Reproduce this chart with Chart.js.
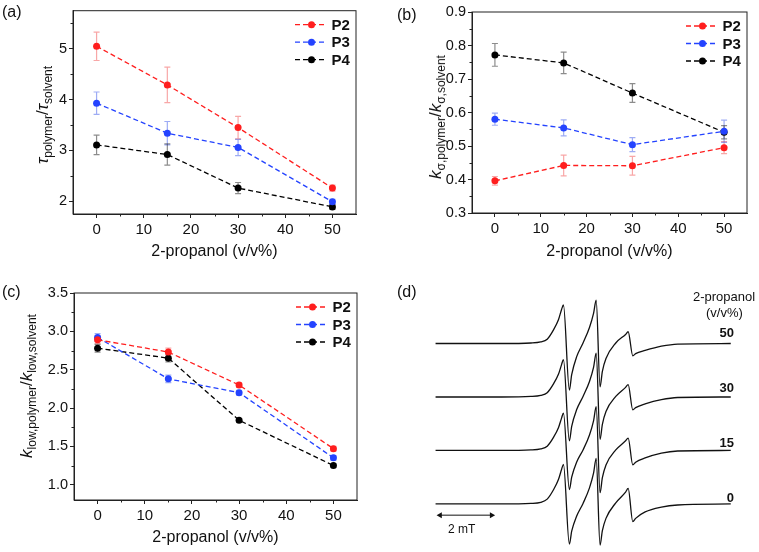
<!DOCTYPE html>
<html>
<head>
<meta charset="utf-8">
<script src="https://cdn.jsdelivr.net/npm/chart.js@4.4.1/dist/chart.umd.min.js"></script>
<style>
  body { margin: 0; background: #fff; }
  #fig { position: relative; width: 759px; height: 552px; font-family: "Liberation Sans", Arial, sans-serif; color: #111; overflow: hidden; }
  #fig canvas { position: absolute; }
  .txt { position: absolute; white-space: nowrap; line-height: 1; }
  .ytitle { position: absolute; white-space: nowrap; line-height: 1; font-size: 17px;
            transform: translate(-50%, -50%) rotate(-90deg); }
  .ytitle sub { font-size: 12px; vertical-align: -4px; }
  .ytitle i { font-style: italic; }
  .lbl { font-size: 16px; }
  .num { font-size: 13px; font-weight: bold; transform: translate(-100%, -50%); }
</style>
</head>
<body>
<div id="fig">
  <canvas id="pa" width="380" height="270" style="left:0;top:0"></canvas>
  <canvas id="pb" width="379" height="270" style="left:380px;top:0"></canvas>
  <canvas id="pc" width="380" height="282" style="left:0;top:270px"></canvas>
  <canvas id="pd" width="379" height="282" style="left:380px;top:270px"></canvas>

  <div class="txt lbl" style="left:2px;top:4px">(a)</div>
  <div class="txt lbl" style="left:397px;top:7px">(b)</div>
  <div class="txt lbl" style="left:2px;top:284px">(c)</div>
  <div class="txt lbl" style="left:397px;top:284px">(d)</div>

  <div class="ytitle" style="left:44px;top:115px"><i>τ</i><sub>polymer</sub>/<i>τ</i><sub>solvent</sub></div>
  <div class="ytitle" style="left:437px;top:117px"><i>k</i><sub>σ,polymer</sub>/<i>k</i><sub>σ,solvent</sub></div>
  <div class="ytitle" style="left:28px;top:386px"><i>k</i><sub>low,polymer</sub>/<i>k</i><sub>low,solvent</sub></div>

  <div class="txt" style="left:693px;top:290px;font-size:13px">2-propanol</div>
  <div class="txt" style="left:706px;top:306px;font-size:13px">(v/v%)</div>
  <div class="txt num" style="left:734px;top:332px">50</div>
  <div class="txt num" style="left:734px;top:387px">30</div>
  <div class="txt num" style="left:734px;top:442px">15</div>
  <div class="txt num" style="left:734px;top:497px">0</div>
  <div class="txt" style="left:448px;top:523px;font-size:12px">2 mT</div>
</div>
<script>
// x values shared by (a)-(c)
const propanol = [0, 15, 30, 50];
const seriesNames = ['P2', 'P3', 'P4'];

// (a) tau_polymer / tau_solvent
const tauP2 = [5.05, 4.29, 3.45, 2.26];
const tauP3 = [3.93, 3.34, 3.06, 1.99];
const tauP4 = [3.11, 2.92, 2.26, 1.89];
const tauErrP2 = [0.28, 0.35, 0.22, 0.06];
const tauErrP3 = [0.22, 0.23, 0.16, 0.05];
const tauErrP4 = [0.19, 0.21, 0.11, 0.05];

// (b) k_sigma ratio
const ksP2 = [0.396, 0.442, 0.441, 0.495];
const ksP3 = [0.580, 0.554, 0.504, 0.544];
const ksP4 = [0.772, 0.748, 0.658, 0.541];
const ksErrP2 = [0.013, 0.031, 0.028, 0.018];
const ksErrP3 = [0.018, 0.024, 0.021, 0.033];
const ksErrP4 = [0.034, 0.032, 0.028, 0.020];

// (c) k_low ratio
const klP2 = [2.89, 2.73, 2.30, 1.47];
const klP3 = [2.92, 2.38, 2.20, 1.35];
const klP4 = [2.78, 2.65, 1.84, 1.25];
const klErrP2 = [0.05, 0.05, 0.03, 0.03];
const klErrP3 = [0.05, 0.05, 0.03, 0.03];
const klErrP4 = [0.05, 0.05, 0.02, 0.02];

// tick values
const xTicks = [0, 10, 20, 30, 40, 50];
const xMinor = [5, 15, 25, 35, 45];
const tauTicks = [2, 3, 4, 5];
const tauMinor = [2.5, 3.5, 4.5, 5.5];
const ksTicks = [0.3, 0.4, 0.5, 0.6, 0.7, 0.8, 0.9];
const ksMinor = [0.35, 0.45, 0.55, 0.65, 0.75, 0.85];
const klTicks = [1.0, 1.5, 2.0, 2.5, 3.0, 3.5];
const klMinor = [1.25, 1.75, 2.25, 2.75, 3.25];

// (d) EPR spectra, field in mT from the left end, intensity relative to each baseline
const fieldMT = [0, 2.56, 3.70, 4.08, 4.33, 4.58, 4.77, 4.89, 4.96, 5.19, 5.28, 5.47, 5.72, 5.97,
                 6.13, 6.23, 6.38, 6.47, 6.61, 6.99, 7.37, 7.47, 7.65, 7.76, 8.13, 8.76, 9.39, 11.45];
const epr50 = [0, 0, 0.01, 0.03, 0.08, 0.26, 0.45, 0.64, 0.72, -0.87, -0.58, -0.25, 0.01, 0.30,
               0.57, 0.81, -0.81, -0.52, -0.28, 0.01, 0.17, 0.22, -0.23, -0.19, -0.13, -0.05, -0.01, 0];
const epr30 = [0, 0, 0.01, 0.03, 0.08, 0.25, 0.43, 0.61, 0.70, -0.82, -0.55, -0.24, 0.01, 0.29,
               0.56, 0.82, -0.79, -0.51, -0.27, 0.01, 0.18, 0.23, -0.24, -0.20, -0.13, -0.05, -0.01, 0];
const epr15 = [0, 0, 0.01, 0.03, 0.08, 0.25, 0.43, 0.61, 0.70, -0.73, -0.50, -0.22, 0.01, 0.29,
               0.56, 0.82, -0.79, -0.51, -0.27, 0.01, 0.18, 0.23, -0.27, -0.22, -0.14, -0.05, -0.01, 0];
const epr0 = [0, 0, 0.01, 0.03, 0.09, 0.27, 0.46, 0.65, 0.74, -0.75, -0.51, -0.23, 0.01, 0.30,
              0.58, 0.85, -0.77, -0.50, -0.27, 0.02, 0.22, 0.29, -0.33, -0.27, -0.15, -0.06, -0.02, 0];
const eprOffsets = [3, 2, 1, 0];
const scaleBarX = [0.175, 2.175];
const scaleBarY = [-0.21, -0.21];

const FONT = '"Liberation Sans", Arial, sans-serif';
const colors = ['#ff1e1e', '#2443ff', '#000000'];
const errColors = ['rgba(240,60,60,0.45)', 'rgba(40,70,230,0.45)', 'rgba(0,0,0,0.45)'];

const errorBars = {
  id: 'errorBars',
  beforeDatasetsDraw(chart) {
    const { ctx, scales: { x, y } } = chart;
    chart.data.datasets.forEach(ds => {
      if (!ds.errors) return;
      ctx.save();
      ctx.strokeStyle = ds.errorColor;
      ctx.lineWidth = 1.2;
      ctx.beginPath();
      ds.data.forEach((pt, j) => {
        const px = x.getPixelForValue(pt.x);
        const hi = y.getPixelForValue(pt.y + ds.errors[j]);
        const lo = y.getPixelForValue(pt.y - ds.errors[j]);
        ctx.moveTo(px, hi); ctx.lineTo(px, lo);
        ctx.moveTo(px - 3, hi); ctx.lineTo(px + 3, hi);
        ctx.moveTo(px - 3, lo); ctx.lineTo(px + 3, lo);
      });
      ctx.stroke();
      ctx.restore();
    });
  }
};

const dashLegend = {
  id: 'dashLegend',
  afterDraw(chart) {
    const { ctx, chartArea: a } = chart;
    chart.data.datasets.forEach((ds, i) => {
      const yy = a.top + 14 + i * 17.5;
      ctx.save();
      ctx.strokeStyle = ds.borderColor;
      ctx.lineWidth = ds.borderWidth;
      ctx.setLineDash(ds.borderDash);
      ctx.beginPath();
      ctx.moveTo(a.right - 61, yy);
      ctx.lineTo(a.right - 29, yy);
      ctx.stroke();
      ctx.setLineDash([]);
      ctx.fillStyle = ds.borderColor;
      ctx.beginPath();
      ctx.arc(a.right - 44.5, yy, 3.5, 0, Math.PI * 2);
      ctx.fill();
      ctx.fillStyle = '#111';
      ctx.font = 'bold 15px ' + FONT;
      ctx.textBaseline = 'middle';
      ctx.fillText(ds.label, a.right - 24.5, yy + 1);
      ctx.restore();
    });
  }
};

const frameTicks = {
  id: 'frameTicks',
  afterDraw(chart, args, opts) {
    const { ctx, chartArea: a, scales: { x, y } } = chart;
    ctx.save();
    ctx.strokeStyle = '#222';
    ctx.lineWidth = 1;
    ctx.strokeRect(a.left, a.top, a.right - a.left, a.bottom - a.top);
    ctx.beginPath();
    opts.xMinor.forEach(v => {
      const p = Math.round(x.getPixelForValue(v)) + 0.5;
      ctx.moveTo(p, a.bottom); ctx.lineTo(p, a.bottom + 2.5);
    });
    opts.yMinor.forEach(v => {
      const p = Math.round(y.getPixelForValue(v)) + 0.5;
      ctx.moveTo(a.left, p); ctx.lineTo(a.left - 2.5, p);
    });
    ctx.stroke();
    ctx.restore();
  }
};

function series(i, ys, errs) {
  return {
    label: seriesNames[i],
    data: propanol.map((x, j) => ({ x, y: ys[j] })),
    errors: errs,
    errorColor: errColors[i],
    borderColor: colors[i],
    backgroundColor: colors[i],
    borderWidth: 1.3,
    borderDash: [5, 3],
    pointRadius: 3.5,
    pointBorderWidth: 0,
    pointBackgroundColor: colors[i],
    tension: 0,
    fill: false
  };
}

function panel(id, datasets, p) {
  return new Chart(document.getElementById(id), {
    type: 'line',
    data: { datasets },
    options: {
      responsive: false,
      animation: false,
      layout: { padding: { top: p.padTop, right: p.padRight, left: 0, bottom: 0 } },
      plugins: {
        legend: { display: false },
        tooltip: { enabled: false },
        frameTicks: { xMinor: xMinor, yMinor: p.yMinor }
      },
      scales: {
        x: {
          type: 'linear', min: -5, max: 55,
          afterBuildTicks: s => { s.ticks = xTicks.map(v => ({ value: v })); },
          afterFit: s => { s.height = p.xHeight; },
          grid: { drawOnChartArea: false, tickLength: 4, tickColor: '#222' },
          border: { color: '#222' },
          ticks: { font: { size: 15, family: FONT }, color: '#111', padding: 3, maxRotation: 0 },
          title: { display: true, text: '2-propanol (v/v%)', color: '#111',
                   font: { size: 16, family: FONT }, padding: { top: 0, bottom: p.titleBottom } }
        },
        y: {
          type: 'linear', min: p.yMin, max: p.yMax,
          afterBuildTicks: s => { s.ticks = p.yTicks.map(v => ({ value: v })); },
          afterFit: s => { s.width = p.yWidth; },
          grid: { drawOnChartArea: false, tickLength: 4, tickColor: '#222' },
          border: { color: '#222' },
          ticks: { font: { size: 14.5, family: FONT }, color: '#111', padding: 2,
                   callback: v => v.toFixed(p.decimals) }
        }
      }
    },
    plugins: [errorBars, dashLegend, frameTicks]
  });
}

panel('pa', [series(0, tauP2, tauErrP2), series(1, tauP3, tauErrP3), series(2, tauP4, tauErrP4)], {
  padTop: 6, padRight: 24, xHeight: 56, yWidth: 73, titleBottom: 9,
  yMin: 1.75, yMax: 5.75, yTicks: tauTicks, yMinor: tauMinor, decimals: 0
});
panel('pb', [series(0, ksP2, ksErrP2), series(1, ksP3, ksErrP3), series(2, ksP4, ksErrP4)], {
  padTop: 12, padRight: 12, xHeight: 57, yWidth: 92, titleBottom: 9,
  yMin: 0.3, yMax: 0.9, yTicks: ksTicks, yMinor: ksMinor, decimals: 1
});
panel('pc', [series(0, klP2, klErrP2), series(1, klP3, klErrP3), series(2, klP4, klErrP4)], {
  padTop: 23, padRight: 23, xHeight: 52, yWidth: 74, titleBottom: 5,
  yMin: 0.8, yMax: 3.5, yTicks: klTicks, yMinor: klMinor, decimals: 1
});

// (d) stacked EPR spectra
const eprSets = [epr50, epr30, epr15, epr0].map((trace, k) => ({
  data: fieldMT.map((x, i) => ({ x, y: trace[i] + eprOffsets[k] })),
  borderColor: '#111',
  borderWidth: 1.3,
  pointRadius: 0,
  cubicInterpolationMode: 'monotone',
  fill: false
}));
eprSets.push({
  data: scaleBarX.map((x, i) => ({ x, y: scaleBarY[i] })),
  borderColor: '#111',
  borderWidth: 1,
  pointStyle: 'triangle',
  pointRadius: 3.5,
  pointRotation: [-90, 90],
  pointBackgroundColor: '#111',
  pointBorderColor: '#111',
  pointBorderWidth: 0,
  fill: false
});

new Chart(document.getElementById('pd'), {
  type: 'line',
  data: { datasets: eprSets },
  options: {
    responsive: false,
    animation: false,
    layout: { padding: 0 },
    plugins: { legend: { display: false }, tooltip: { enabled: false } },
    scales: {
      x: { type: 'linear', min: -2.0, max: 12.39, display: false },
      y: { type: 'linear', min: -0.824, max: 4.30, display: false }
    }
  }
});
</script>
</body>
</html>
